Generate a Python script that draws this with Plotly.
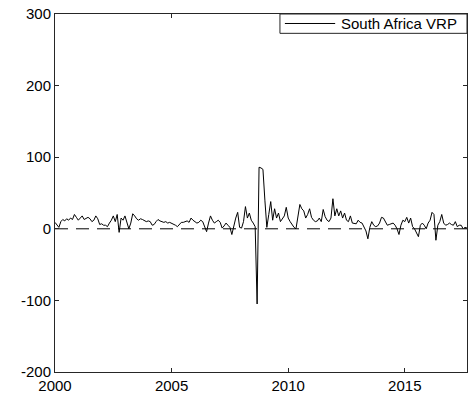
import plotly.graph_objects as go

# Monthly South Africa variance risk premium, Jan 2000 - Sep 2017
start_year = 2000
vrp = [
    # 2000
    9, 6, 2, 10, 13, 11, 14, 12, 15, 13, 20, 16,
    # 2001
    12, 15, 18, 13, 15, 16, 14, 10, 12, 18, 14, 6,
    # 2002
    7, 5, 5, 3, 8, 12, 18, 10, 20, -5, 15, 12,
    # 2003
    18, 10, 0, 8, 21, 18, 14, 12, 14, 13, 11, 10,
    # 2004
    11, 10, 5, 6, 10, 13, 11, 10, 9, 10, 8, 9,
    # 2005
    8, 7, 5, 3, 6, 9, 9, 10, 11, 9, 15, 12,
    # 2006
    10, 8, 9, 12, 10, 4, -4, 8, 18, 12, 8, 10,
    # 2007
    12, 9, 1, 4, 8, 5, 2, -8, 6, 15, 23, 2,
    # 2008
    1, 10, 31, 15, 22, 12, 8, 3, -105, 86, 85, 83,
    # 2009
    40, 2, 20, 38, 12, 28, 15, 22, 10, 15, 18, 30,
    # 2010
    15, 10, 5, 2, 0, 20, 34, 28, 25, 15, 20, 28,
    # 2011
    16, 12, 10, 11, 15, 10, 27, 17, 12, 10, 15, 42,
    # 2012
    18, 28, 18, 25, 15, 22, 12, 10, 18, 8, 8, 7,
    # 2013
    12, 9, 8, 3, -3, -14, 2, 10, 5, 3, 4, 8,
    # 2014
    16, 15, 10, 5, 6, 7, 8, 5, 0, -8, 5, 12,
    # 2015
    10, 16, 8, 15, 3, 0, -5, -11, 5, 8, 5, 0,
    # 2016
    8, 12, 23, 20, -16, 5, 10, 20, 8, 5, 6, 8,
    # 2017
    6, 5, 10, 3, 5, 5, 0, 2, 1,
]
baseline = 0
series_name = "South Africa VRP"
x_ticks = [2000, 2005, 2010, 2015]
y_ticks = [-200, -100, 0, 100, 200, 300]
y_limits = [-200, 300]

t = [start_year + i / 12 for i in range(len(vrp))]
x_limits = [t[0], t[-1]]

axis_color = "#262626"
font = dict(family="Liberation Sans, Arial, sans-serif", size=15, color="#000000")

fig = go.Figure()
fig.add_trace(go.Scatter(
    x=t, y=vrp, mode="lines", name=series_name, showlegend=False,
    line=dict(color="#000000", width=1),
))
fig.add_trace(go.Scatter(
    x=x_limits, y=[baseline, baseline], mode="lines", showlegend=False,
    line=dict(color="#000000", width=1, dash="13px,8px"),
))

axis_common = dict(
    showline=True, linecolor=axis_color, linewidth=1, mirror="ticks",
    ticks="inside", ticklen=4, tickcolor=axis_color, tickwidth=1,
    showgrid=False, zeroline=False, tickfont=font,
)
fig.update_xaxes(range=x_limits, tickvals=x_ticks, ticktext=[str(v) for v in x_ticks],
                 **axis_common)
fig.update_yaxes(range=y_limits, tickvals=y_ticks, ticktext=[str(v) for v in y_ticks],
                 **axis_common)

# Legend box in the top-right corner: frame, line sample and label
legend_left, legend_bottom = 0.546, 0.946
sample_x0, sample_x1, sample_y = 0.558, 0.680, 0.9735
fig.add_shape(type="rect", xref="paper", yref="paper",
              x0=legend_left, x1=1, y0=legend_bottom, y1=1,
              line=dict(color=axis_color, width=1), fillcolor="white", layer="above")
fig.add_shape(type="line", xref="paper", yref="paper",
              x0=sample_x0, x1=sample_x1, y0=sample_y, y1=sample_y,
              line=dict(color="#000000", width=1), layer="above")
fig.add_annotation(xref="paper", yref="paper", x=0.690, y=sample_y,
                   xanchor="left", yanchor="middle", showarrow=False,
                   text=series_name, font=font)

fig.update_layout(
    width=469, height=404,
    margin=dict(l=55, r=2, t=14, b=32),
    paper_bgcolor="white", plot_bgcolor="white",
    font=font,
    showlegend=False,
)

fig.write_html("out.html")
